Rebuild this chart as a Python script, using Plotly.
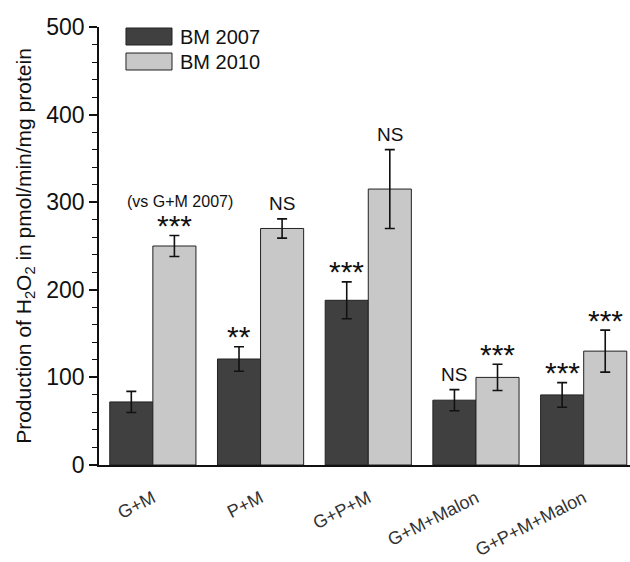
import plotly.graph_objects as go

categories = ["G+M", "P+M", "G+P+M", "G+M+Malon", "G+P+M+Malon"]
bm2007 = [72, 121, 188, 74, 80]
bm2007_err = [12, 14, 21, 12, 14]
bm2010 = [250, 270, 315, 100, 130]
bm2010_err = [12, 11, 45, 15, 24]
sig2007 = ["", "**", "***", "NS", "***"]
sig2010 = ["***", "NS", "NS", "***", "***"]
y_ticks = [0, 100, 200, 300, 400, 500]
series_names = ["BM 2007", "BM 2010"]
series_colors = ["#404040", "#c8c8c8"]

FONT = "Arial, Liberation Sans, sans-serif"

fig = go.Figure()
for name, vals, errs, col in ((series_names[0], bm2007, bm2007_err, series_colors[0]),
                              (series_names[1], bm2010, bm2010_err, series_colors[1])):
    fig.add_trace(go.Bar(
        name=name, x=categories, y=vals,
        marker=dict(color=col, line=dict(color="#222222", width=1)),
        error_y=dict(type="data", array=errs, color="#111111", thickness=1.6, width=5),
    ))

annotations = []
for i, c in enumerate(categories):
    for lab, v, e, sh in ((sig2007[i], bm2007[i], bm2007_err[i], -21.5),
                          (sig2010[i], bm2010[i], bm2010_err[i], 21.5)):
        if not lab:
            continue
        is_star = lab.startswith("*")
        annotations.append(dict(
            x=c, y=v + e, xref="x", yref="y", text=lab, showarrow=False,
            xshift=sh, yanchor="middle", yshift=10 if is_star else 15,
            font=dict(family=FONT, size=30 if is_star else 19, color="#111111"),
        ))
annotations.append(dict(
    x=categories[0], y=bm2010[0] + bm2010_err[0], xref="x", yref="y",
    text="(vs G+M 2007)", showarrow=False, xshift=27, yshift=34, yanchor="middle",
    font=dict(family=FONT, size=16, color="#111111"),
))

# legend drawn as boxes + labels (paper coordinates)
shapes = []
legend_rows = [(0.9977, 0.9589), (0.9406, 0.9018)]
for (ytop, ybot), name, col in zip(legend_rows, series_names, series_colors):
    shapes.append(dict(type="rect", xref="paper", yref="paper",
                       x0=0.0508, x1=0.1375, y0=ybot, y1=ytop,
                       fillcolor=col, line=dict(color="#222222", width=1)))
    annotations.append(dict(x=0.1488, y=(ytop + ybot) / 2, xref="paper", yref="paper",
                            text=name, showarrow=False, xanchor="left", yanchor="middle",
                            font=dict(family=FONT, size=20, color="#111111")))

fig.update_layout(
    width=630, height=562,
    margin=dict(l=99, r=0, t=27, b=97),
    paper_bgcolor="white", plot_bgcolor="white",
    barmode="group", bargap=0.2, bargroupgap=0,
    font=dict(family=FONT, color="#111111"),
    showlegend=False,
    annotations=annotations,
    shapes=shapes,
)
fig.update_xaxes(
    range=[-0.5, 4.43], showline=True, linecolor="#111111", linewidth=1.5,
    ticks="", tickangle=-27, tickfont=dict(size=18, color="#333333"),
    ticklabelstandoff=14, showgrid=False, zeroline=False,
)
fig.update_yaxes(
    range=[0, 500], tickvals=y_ticks, showline=True, linecolor="#111111", linewidth=1.5,
    ticks="outside", ticklen=8, tickwidth=1.5, tickcolor="#111111",
    minor=dict(dtick=20, ticks="outside", ticklen=5, tickwidth=1, tickcolor="#111111"),
    tickfont=dict(size=23, color="#111111"), showgrid=False, zeroline=False,
    title=dict(text="Production of H<sub>2</sub>O<sub>2</sub> in pmol/min/mg protein",
               font=dict(size=21), standoff=9),
)

fig.write_html("out.html", config={"displayModeBar": False},
               post_script="document.body.style.margin='0';")
